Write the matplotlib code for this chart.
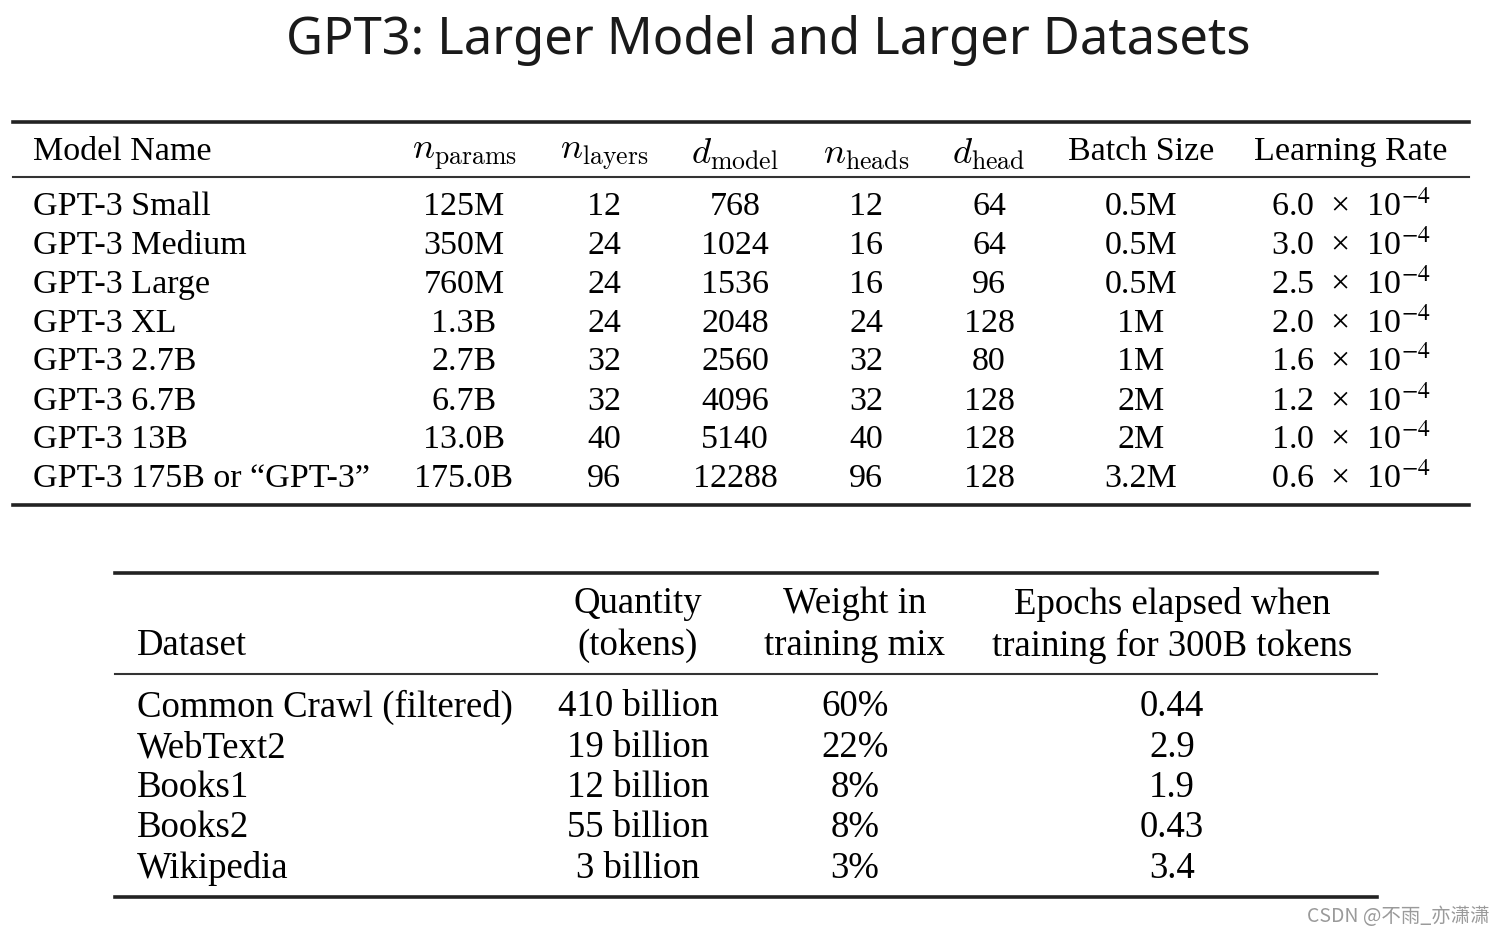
# GPT-3 模型参数表与训练数据表
import matplotlib.pyplot as plt

# 表1：模型配置
model_names = ['GPT-3 Small', 'GPT-3 Medium', 'GPT-3 Large', 'GPT-3 XL',
               'GPT-3 2.7B', 'GPT-3 6.7B', 'GPT-3 13B', 'GPT-3 175B or \u201cGPT-3\u201d']
n_params = ['125M', '350M', '760M', '1.3B', '2.7B', '6.7B', '13.0B', '175.0B']
n_layers = [12, 24, 24, 24, 32, 32, 40, 96]
d_model = [768, 1024, 1536, 2048, 2560, 4096, 5140, 12288]
n_heads = [12, 16, 16, 24, 32, 32, 40, 96]
d_head = [64, 64, 96, 128, 80, 128, 128, 128]
batch_size = ['0.5M', '0.5M', '0.5M', '1M', '1M', '2M', '2M', '3.2M']
lr_mantissa = ['6.0', '3.0', '2.5', '2.0', '1.6', '1.2', '1.0', '0.6']
lr_exp = -4
header1 = ['Model Name', r'$n_{\mathrm{params}}$', r'$n_{\mathrm{layers}}$', r'$d_{\mathrm{model}}$',
           r'$n_{\mathrm{heads}}$', r'$d_{\mathrm{head}}$', 'Batch Size', 'Learning Rate']

# 表2：数据集
datasets = ['Common Crawl (filtered)', 'WebText2', 'Books1', 'Books2', 'Wikipedia']
quantity = ['410 billion', '19 billion', '12 billion', '55 billion', '3 billion']
weight = ['60%', '22%', '8%', '8%', '3%']
epochs = ['0.44', '2.9', '1.9', '0.43', '3.4']
header2 = ['Dataset', 'Quantity\n(tokens)', 'Weight in\ntraining mix', 'Epochs elapsed when\ntraining for 300B tokens']

W, H = 1506, 935
fig = plt.figure(figsize=(W / 100, H / 100), dpi=100)
ax = fig.add_axes([0, 0, 1, 1])
ax.set_xlim(0, W)
ax.set_ylim(H, 0)
ax.axis('off')

serif = 'Liberation Serif'
fs = 24.5

# 标题
ax.text(W / 2 + 15, 40, 'GPT3: Larger Model and Larger Datasets', ha='center', va='center',
        fontsize=36.5, family='Noto Sans', color='#1a1a1a')

# ---- 表1 ----
ax.plot([13, 1469], [122, 122], color='#222222', lw=2.6)
ax.plot([13, 1469], [177, 177], color='#333333', lw=1.5)
ax.plot([13, 1469], [505, 505], color='#222222', lw=2.6)

col_x = [33, 464, 604, 735, 866, 989, 1141, 1351]
head_y = 152
for k, h in enumerate(header1):
    if k == 0:
        ax.text(col_x[k], head_y, h, ha='left', va='center', fontsize=fs, family=serif)
    elif h.startswith('$'):
        ax.text(col_x[k], head_y + 1, h, ha='center', va='center', fontsize=fs + 2,
                math_fontfamily='cm')
    else:
        ax.text(col_x[k], head_y, h, ha='center', va='center', fontsize=fs, family=serif)

row_y = [204, 243, 282, 321, 359, 399, 437, 476]
for i in range(len(model_names)):
    y = row_y[i] + 3
    ax.text(col_x[0], y, model_names[i], ha='left', va='center', fontsize=fs, family=serif)
    vals = [n_params[i], n_layers[i], d_model[i], n_heads[i], d_head[i], batch_size[i]]
    for k, v in enumerate(vals):
        ax.text(col_x[k + 1], y, str(v), ha='center', va='center', fontsize=fs, family=serif)
    ax.text(col_x[7], y, lr_mantissa[i] + '  \u00d7  10$^{%d}$' % lr_exp, ha='center', va='center',
            fontsize=fs, family=serif, math_fontfamily='stix')

# ---- 表2 ----
ax.plot([115, 1377], [573, 573], color='#222222', lw=2.6)
ax.plot([115, 1377], [674, 674], color='#333333', lw=1.5)
ax.plot([115, 1377], [897, 897], color='#222222', lw=2.6)

fs2 = 26.5
col2_x = [137, 638, 855, 1172]
ax.text(col2_x[0], 646, header2[0], ha='left', va='center', fontsize=fs2, family=serif)
for k in range(1, 4):
    l1, l2 = header2[k].split('\n')
    ax.text(col2_x[k], 604, l1, ha='center', va='center', fontsize=fs2, family=serif)
    ax.text(col2_x[k], 646, l2, ha='center', va='center', fontsize=fs2, family=serif)

row2_y = [704, 745, 785, 825, 866]
for i in range(len(datasets)):
    y = row2_y[i] + 3
    ax.text(col2_x[0], y, datasets[i], ha='left', va='center', fontsize=fs2, family=serif)
    ax.text(col2_x[1], y, quantity[i], ha='center', va='center', fontsize=fs2, family=serif)
    ax.text(col2_x[2], y, weight[i], ha='center', va='center', fontsize=fs2, family=serif)
    ax.text(col2_x[3], y, epochs[i], ha='center', va='center', fontsize=fs2, family=serif)

# 水印
ax.text(1490, 916, 'CSDN @不雨_亦潇潇', ha='right', va='center', fontsize=14,
        family=['Noto Sans CJK SC', 'DejaVu Sans'], color='#9a9a9a')

plt.savefig('out.png', dpi=100)
